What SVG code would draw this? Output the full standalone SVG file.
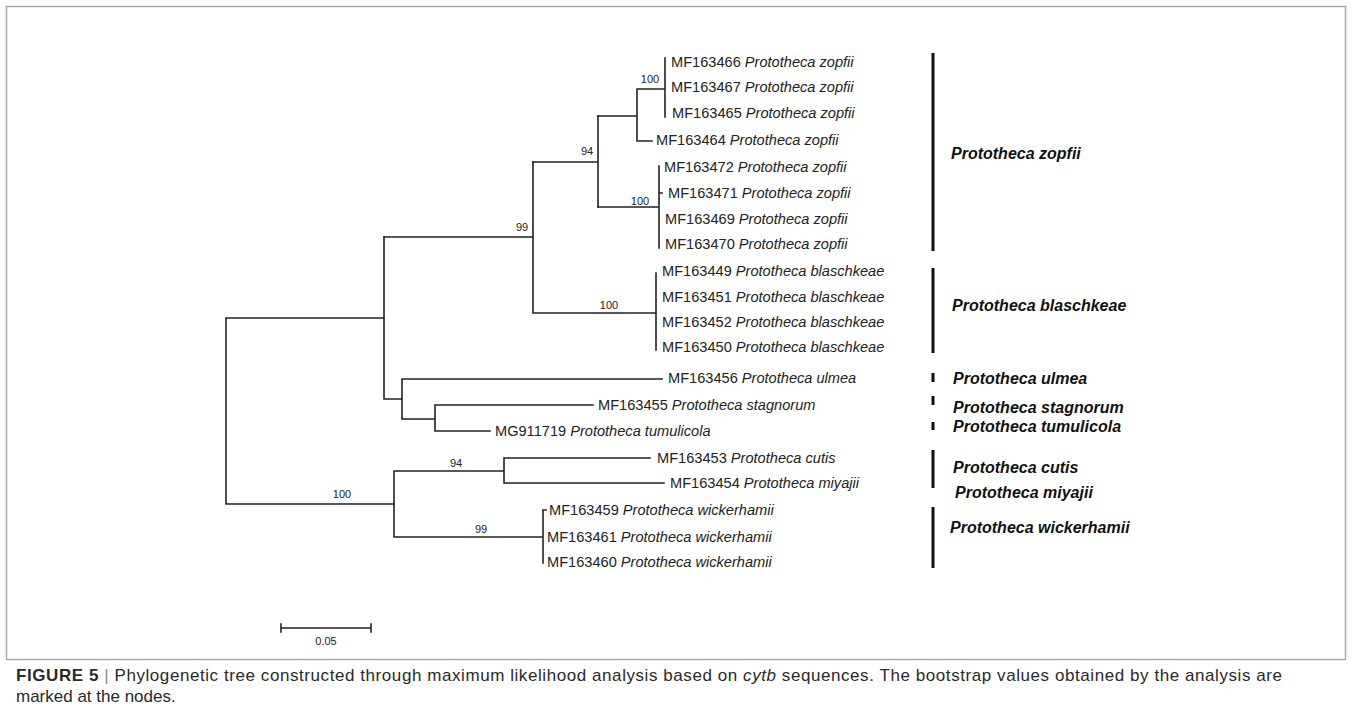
<svg xmlns="http://www.w3.org/2000/svg" width="1352" height="708" viewBox="0 0 1352 708">
<style>
.br{stroke:#222;stroke-width:1.6;fill:none;stroke-linecap:square}
.bar{stroke:#111;stroke-width:3;fill:none}
.lf{font-family:"Liberation Sans",Arial,sans-serif;font-size:14.6px;fill:#222}
.sp{font-style:italic}
.bs{font-family:"Liberation Sans",Arial,sans-serif;font-size:11px;fill:#222;text-anchor:middle}
.cl{font-family:"Liberation Sans",Arial,sans-serif;font-size:16px;font-weight:bold;font-style:italic;fill:#111}
.cap{font-family:"Liberation Sans",Arial,sans-serif;font-size:17px;fill:#2a2a2a}
</style>
<rect x="6.5" y="6.5" width="1339" height="653" fill="#fff" stroke="#a8a8a8" stroke-width="1.5"/>

<g id="connectors">
<!-- zopfii clade 1 -->
<path class="br" d="M665 58V117M637 89H665M637 89V141H652M598 116H637"/>
<!-- zopfii clade 2 -->
<path class="br" d="M659 166V248M598 207H659M659 193H662"/>
<path class="br" d="M598 116V207M533 162H598"/>
<!-- blaschkeae -->
<path class="br" d="M656 273V350M533 313H656M533 162V313M384 237H533"/>
<!-- ulmea / stagnorum / tumulicola -->
<path class="br" d="M384 237V399H402M402 379V419M402 379H662M402 419H435M435 405V431M435 405H593M435 431H490"/>
<!-- root -->
<path class="br" d="M226 318H384M226 318V504H394"/>
<!-- cutis / miyajii / wickerhamii -->
<path class="br" d="M394 471V537M394 471H504M504 458V483M504 458H650M504 483H664M394 537H543M543 510V563M543 510H546"/>
<!-- scale bar -->
<path class="br" d="M281 628H371M281 624V632M371 624V632"/>
</g>

<g id="bootstrap">
<text class="bs" x="650" y="83">100</text>
<text class="bs" x="587" y="155">94</text>
<text class="bs" x="640" y="205">100</text>
<text class="bs" x="522" y="231">99</text>
<text class="bs" x="609" y="309">100</text>
<text class="bs" x="342" y="498">100</text>
<text class="bs" x="456" y="467">94</text>
<text class="bs" x="481" y="533">99</text>
<text class="bs" x="326" y="645">0.05</text>
</g>

<g id="leaves">
<text class="lf" x="671" y="67">MF163466 <tspan class="sp">Prototheca zopfii</tspan></text>
<text class="lf" x="671" y="92">MF163467 <tspan class="sp">Prototheca zopfii</tspan></text>
<text class="lf" x="672" y="118">MF163465 <tspan class="sp">Prototheca zopfii</tspan></text>
<text class="lf" x="656" y="145">MF163464 <tspan class="sp">Prototheca zopfii</tspan></text>
<text class="lf" x="664" y="172">MF163472 <tspan class="sp">Prototheca zopfii</tspan></text>
<text class="lf" x="668" y="198">MF163471 <tspan class="sp">Prototheca zopfii</tspan></text>
<text class="lf" x="665" y="224">MF163469 <tspan class="sp">Prototheca zopfii</tspan></text>
<text class="lf" x="665" y="249">MF163470 <tspan class="sp">Prototheca zopfii</tspan></text>
<text class="lf" x="662" y="276">MF163449 <tspan class="sp">Prototheca blaschkeae</tspan></text>
<text class="lf" x="662" y="302">MF163451 <tspan class="sp">Prototheca blaschkeae</tspan></text>
<text class="lf" x="662" y="327">MF163452 <tspan class="sp">Prototheca blaschkeae</tspan></text>
<text class="lf" x="662" y="352">MF163450 <tspan class="sp">Prototheca blaschkeae</tspan></text>
<text class="lf" x="668" y="383">MF163456 <tspan class="sp">Prototheca ulmea</tspan></text>
<text class="lf" x="598" y="410">MF163455 <tspan class="sp">Prototheca stagnorum</tspan></text>
<text class="lf" x="495" y="436">MG911719 <tspan class="sp">Prototheca tumulicola</tspan></text>
<text class="lf" x="657" y="463">MF163453 <tspan class="sp">Prototheca cutis</tspan></text>
<text class="lf" x="670" y="488">MF163454 <tspan class="sp">Prototheca miyajii</tspan></text>
<text class="lf" x="549" y="515">MF163459 <tspan class="sp">Prototheca wickerhamii</tspan></text>
<text class="lf" x="547" y="542">MF163461 <tspan class="sp">Prototheca wickerhamii</tspan></text>
<text class="lf" x="547" y="567">MF163460 <tspan class="sp">Prototheca wickerhamii</tspan></text>
</g>

<g id="clade-zopfii"><path class="bar" d="M933 53V251"/><text class="cl" x="951" y="159">Prototheca zopfii</text></g>
<g id="clade-blaschkeae"><path class="bar" d="M933 268V353"/><text class="cl" x="952" y="311">Prototheca blaschkeae</text></g>
<g id="clade-ulmea"><path class="bar" d="M933 373V382"/><text class="cl" x="953" y="384">Prototheca ulmea</text></g>
<g id="clade-stagnorum"><path class="bar" d="M933 396V405"/><text class="cl" x="953" y="413">Prototheca stagnorum</text></g>
<g id="clade-tumulicola"><path class="bar" d="M933 422V430"/><text class="cl" x="953" y="432">Prototheca tumulicola</text></g>
<g id="clade-cutis"><path class="bar" d="M933 450V488"/><text class="cl" x="953" y="473">Prototheca cutis</text></g>
<g id="clade-miyajii"><text class="cl" x="955" y="498">Prototheca miyajii</text></g>
<g id="clade-wickerhamii"><path class="bar" d="M933 507V568"/><text class="cl" x="950" y="533">Prototheca wickerhamii</text></g>

<g id="caption">
<text class="cap" x="16" y="681" textLength="1266" lengthAdjust="spacing"><tspan font-weight="bold">FIGURE 5</tspan> <tspan fill="#888">|</tspan> Phylogenetic tree constructed through maximum likelihood analysis based on <tspan font-style="italic">cytb</tspan> sequences. The bootstrap values obtained by the analysis are</text>
<text class="cap" x="16" y="702">marked at the nodes.</text>
</g>
</svg>
